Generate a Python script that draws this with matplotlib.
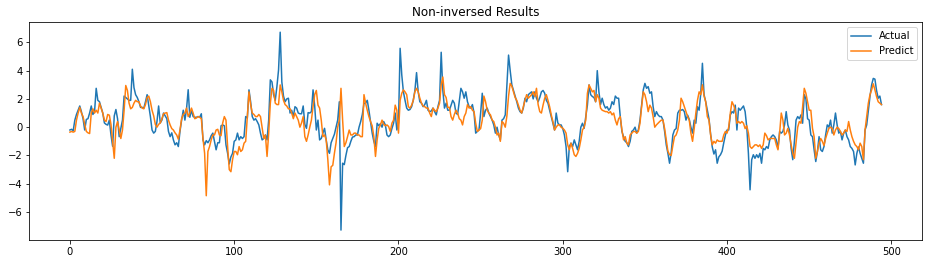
import matplotlib
matplotlib.use("Agg")
import matplotlib.pyplot as plt

# values
actual = [
    -0.2, -0.15, -0.25, 0.5, 0.9, 1.2, 1.5, 1.1, 0.6, -0.2,
    0.55, 0.6, 1.0, 1.5, 0.9, 1.1, 2.75, 1.9, 1.8, 1.4,
    1.0, 0.3, 0.2, 0.15, 0.5, -0.55, -1.35, 0.8, 1.25, 0.6,
    -0.67, -0.1, 0.5, 2.2, 2.1, 2.0, 1.9, 1.9, 4.1, 2.8,
    2.3, 2.1, 1.8, 1.4, 1.4, 1.35, 1.8, 2.3, 1.5, 0.75,
    -0.2, -0.42, -0.3, 0.4, 1.5, 0.3, 0.5, 1.0, 0.8, 0.6,
    -0.3, -0.67, -0.4, -0.9, -1.25, -1.1, -1.37, -0.3, 0.5, 1.2,
    0.5, 1.3, 2.65, 0.7, 1.2, 0.75, 0.7, 0.7, 0.75, 0.7,
    0.95, -0.9, -1.25, -0.95, -1.1, -0.9, -0.6, -0.42, -1.0, -1.6,
    -1.1, -1.1, 0.1, 0.16, 0.1, -1.25, -1.85, -2.6, -2.1, -1.85,
    -1.0, -0.9, -0.42, -0.9, -0.67, -0.8, -0.67, 0.75, 0.65, 2.64,
    1.8, 0.75, 0.5, 0.6, 0.4, 0.16, -0.42, -0.9, -0.8, -0.55,
    -0.9, 0.5, 3.35, 3.2, 2.3, 1.9, 2.87, 4.05, 6.72, 3.2,
    2.2, 1.8, 2.0, 2.05, 1.0, 1.2, 0.75, 1.45, 1.35, 1.0,
    0.95, 0.95, 1.5, 0.2, -0.08, 1.03, 1.0, 1.1, 2.64, 1.5,
    -0.2, 0.5, -0.9, -0.8, -0.42, -0.08, -0.9, -1.6, -1.85, -1.1,
    -0.8, -0.5, 0.0, 0.5, 1.8, -7.28, -2.55, -2.65, -2.0, -1.45,
    -1.37, -1.0, -0.7, -0.67, -0.55, -0.55, 0.0, 0.4, 0.9, 1.7,
    1.7, 1.9, 1.2, 0.4, -0.42, -1.0, -1.37, 0.28, 0.1, 0.25,
    0.0, 0.4, 0.16, -0.55, -0.67, -0.55, -0.1, 0.28, 1.0, -0.2,
    0.3, 5.58, 3.7, 2.5, 1.9, 1.35, 1.2, 1.25, 1.45, 1.9,
    2.6, 3.86, 2.5, 1.8, 1.7, 1.45, 1.6, 1.9, 1.2, 1.1,
    1.15, 1.35, 1.1, 0.87, 1.45, 1.9, 5.3, 2.6, 1.35, 1.7,
    1.2, 1.2, 1.55, 1.9, 1.7, 1.0, 0.9, 1.8, 2.75, 2.5,
    2.05, 2.5, 1.8, 1.45, 1.35, 1.6, 1.0, -0.42, -0.3, -0.2,
    1.0, 2.4, 0.75, 1.2, 1.35, 1.0, 0.75, 0.5, 0.16, -0.42,
    0.0, -0.55, -0.9, 0.5, 0.6, 0.87, 3.0, 5.1, 4.0, 3.0,
    2.6, 2.2, 1.8, 1.35, 1.1, 1.0, 1.35, 2.05, 1.8, 2.3,
    2.4, 2.5, 2.0, 2.5, 2.05, 1.8, 2.1, 2.5, 2.6, 2.4,
    1.9, 1.7, 1.2, 0.75, 0.28, -0.2, 1.0, 0.3, 0.16, 0.16,
    -0.1, -0.55, -1.37, -3.15, -1.37, -1.13, -1.37, -0.9, -1.25, -1.6,
    -1.0, 0.0, 0.28, -0.08, 0.75, 1.56, 2.99, 2.3, 2.17, 2.1,
    1.8, 4.0, 2.5, 1.6, 2.05, 1.6, 1.35, 1.45, 1.2, 1.35,
    1.8, 1.6, 2.2, 2.05, 2.05, 0.75, -0.3, -0.67, -1.0, -1.1,
    -1.37, -1.0, -0.3, -0.2, 0.0, -0.42, -0.2, 0.5, 1.6, 2.64,
    3.1, 2.75, 2.87, 2.4, 2.5, 1.45, 0.75, 1.1, 0.87, 0.75,
    0.75, 0.5, -0.3, -1.25, -1.85, -2.55, -1.8, -0.55, -0.2, -0.1,
    1.0, 1.2, 1.2, 1.25, 1.1, 0.5, 0.85, 0.55, 0.0, -0.42,
    0.5, 0.28, 1.45, 1.2, 2.4, 4.52, 2.3, 1.8, 1.2, 0.6,
    -0.5, -1.4, -1.9, -1.6, -2.55, -2.1, -1.95, -1.7, -1.1, -0.55,
    -0.2, -0.2, 0.87, 1.1, 1.0, 1.56, -0.2, 1.35, 1.2, 1.35,
    1.5, 1.1, 0.0, -1.85, -4.43, -2.3, -1.95, -2.2, -1.95, -2.15,
    -1.85, -2.55, -1.5, -1.6, -1.37, -1.5, -0.9, -0.67, -0.55, -0.67,
    -0.9, -1.5, -0.3, -0.42, -0.3, 0.16, 1.1, 0.16, -0.2, -1.5,
    -2.3, -1.0, 0.5, 0.75, 0.6, 0.87, 0.28, 2.3, 2.0, 0.6,
    0.5, -0.55, -0.67, -1.6, -2.43, -1.72, -0.67, -1.6, -1.72, -1.37,
    -0.55, 0.16, 0.0, 0.5, -0.42, 0.16, 1.0, 0.16, -0.42, -0.3,
    -0.9, -0.42, -0.2, -0.67, -0.9, -1.37, -1.5, -1.72, -2.67, -1.85,
    -1.4, -1.85, -2.2, -2.55, -0.2, 0.16, 1.2, 2.17, 2.99, 3.45,
    3.4, 2.6, 2.05, 2.2, 1.6]

predict = [
    -0.35, -0.3, -0.35, -0.3, 0.5, 1.0, 1.4, 1.0, 0.75, 0.2,
    -0.3, -0.4, -0.45, 1.0, 1.3, 1.0, 1.2, 1.0, 1.7, 1.35,
    1.0, 0.5, 0.4, 0.9, 0.85, 0.2, -1.0, -2.2, 0.0, 0.4,
    -0.2, -0.8, -0.2, 1.2, 2.95, 2.6, 1.7, 1.3, 1.4, 1.7,
    1.9, 1.8, 1.8, 1.5, 1.35, 1.3, 1.6, 2.1, 2.2, 1.8,
    1.2, 0.8, 0.2, 0.0, 0.2, 0.3, 0.6, 0.95, 1.0, 1.03,
    0.5, 0.16, -0.1, -0.2, -0.4, -0.55, -0.85, -0.2, 0.6, 0.9,
    1.0, 1.35, 0.75, 1.0, 1.35, 1.0, 0.6, 0.65, 0.75, 0.7,
    0.6, -0.8, -1.85, -4.85, -1.72, -1.37, -0.9, -0.55, -0.55, -0.2,
    -0.15, -0.55, -0.6, 0.3, 0.75, 0.5, -1.37, -3.0, -3.15, -2.3,
    -1.72, -1.72, -1.95, -1.37, -1.72, -1.6, -1.13, -1.0, 0.75, 2.5,
    1.6, 1.0, 0.9, 0.75, 0.75, 0.9, 0.75, 0.0, -0.8, -0.55,
    -2.07, -0.42, 1.7, 2.75, 2.6, 1.7, 1.6, 1.6, 2.99, 2.5,
    1.9, 1.6, 1.5, 1.3, 1.3, 1.0, 0.6, 1.0, 0.75, 0.5,
    0.0, 0.3, 0.75, -0.67, -1.0, -0.55, 0.0, 0.5, 1.45, 2.3,
    2.6, 1.56, 1.35, 0.5, -0.67, -0.55, -0.9, -2.3, -4.08, -2.8,
    -2.7, -1.85, -1.1, 0.0, 0.5, 2.75, 0.5, -1.37, -1.1, -0.67,
    -0.2, -0.55, -0.55, -0.42, -0.42, -0.55, -0.55, -0.67, -0.67, 2.3,
    1.7, 1.2, 0.75, 0.4, 0.1, -0.67, -2.07, -0.9, -0.08, 0.16,
    0.5, 0.2, 0.1, 0.16, 0.05, -0.3, 0.28, 0.5, 1.56, 1.2,
    -0.42, 1.9, 2.4, 2.64, 2.5, 2.3, 1.45, 1.35, 1.56, 1.9,
    2.5, 2.75, 2.5, 2.05, 1.7, 1.5, 1.45, 1.35, 1.35, 1.0,
    0.75, 1.35, 1.2, 1.1, 1.35, 1.7, 3.0, 3.55, 2.3, 2.1,
    1.4, 1.4, 0.75, 0.5, 0.9, 1.2, 1.0, 0.6, 0.5, 0.16,
    0.75, 1.0, 1.6, 1.35, 1.45, 1.2, 1.1, 0.28, -0.3, -0.2,
    -0.1, 0.5, 2.2, 1.8, 1.2, 1.0, 0.87, 0.5, 0.4, 0.0,
    -0.55, -0.42, -1.0, 0.4, 0.28, 0.0, 0.8, 2.2, 3.1, 2.9,
    2.5, 2.1, 1.9, 1.56, 1.2, 1.0, 1.45, 1.9, 2.3, 2.05,
    2.17, 2.3, 2.5, 2.17, 2.75, 1.6, 1.1, 1.0, 1.56, 2.05,
    2.3, 1.9, 1.45, 0.87, 0.4, -0.2, 0.0, 0.16, 0.16, 0.0,
    -0.08, -0.2, -0.42, -1.25, -1.6, -1.13, -1.5, -1.95, -2.07, -1.85,
    -1.5, -0.9, -0.2, 0.0, 0.5, 2.4, 2.99, 2.75, 2.5, 2.6,
    1.8, 2.3, 2.05, 1.35, 1.2, 1.15, 1.1, 1.1, 1.0, 1.1,
    0.87, 1.0, 0.5, 0.16, 0.6, 0.75, -0.2, -0.9, -0.67, -1.13,
    -1.25, -0.55, -0.42, -0.3, -0.3, -0.42, -0.3, 0.28, 1.45, 2.5,
    2.3, 1.8, 1.1, 1.56, 1.35, 0.75, 0.0, 0.16, 0.28, 0.4,
    0.5, 0.5, -0.1, -0.9, -1.7, -1.95, -2.0, -1.3, -0.67, -0.55,
    -0.2, 0.5, 2.05, 1.8, 1.45, 1.1, 0.75, 0.5, -0.42, -1.0,
    -0.1, 1.0, 1.9, 2.5, 2.3, 3.0, 2.2, 1.8, 0.75, 0.5,
    -0.55, -1.25, -1.0, -1.13, -0.9, -1.0, -1.0, -1.0, -0.55, -0.3,
    -0.42, 0.0, 1.0, 1.8, 1.56, 1.2, 0.28, 0.4, 0.28, 0.4,
    0.28, -0.1, 0.1, -0.42, -1.37, -1.5, -1.37, -1.25, -1.25, -1.37,
    -1.25, -1.5, -1.25, -0.42, -0.6, -0.9, -0.8, -0.8, -0.8, -0.8,
    -1.25, -1.6, -0.42, 1.0, 0.5, -0.55, -0.42, -0.08, -0.55, -1.25,
    -1.85, -2.2, -1.1, 0.0, 0.4, 0.28, 1.45, 2.75, 2.4, 1.8,
    1.2, 1.2, -0.08, -0.67, -2.2, -1.72, -1.13, -0.8, -1.0, -1.3,
    -0.8, -0.42, -0.08, 0.0, -0.1, -0.55, -0.2, 0.0, -0.1, -0.3,
    -0.55, -0.42, -0.2, -0.3, 0.4, -0.2, -0.67, -1.0, -1.25, -1.37,
    -1.6, -1.13, -1.37, -2.3, -0.2, 0.75, 1.7, 2.3, 2.64, 3.07,
    2.64, 2.17, 1.8, 1.7, 1.6]

fig = plt.figure(figsize=(928 / 72, 264 / 72), dpi=72)
ax = fig.add_axes([0.0316, 0.091, 0.962, 0.8245])

ax.plot(range(len(actual)), actual, label='Actual')
ax.plot(range(len(predict)), predict, label='Predict')
ax.set_title('Non-inversed Results')
ax.legend(loc='upper right')

fig.savefig('out.png', dpi=72)
